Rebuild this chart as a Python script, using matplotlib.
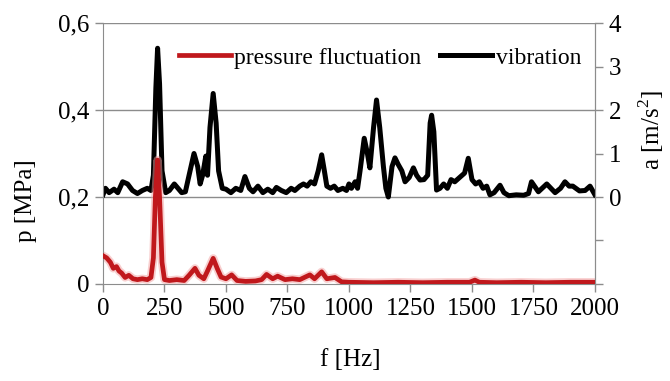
import matplotlib
matplotlib.use("Agg")
import matplotlib.pyplot as plt
from matplotlib.ticker import FixedLocator, FuncFormatter

# vibration spectrum, a [m/s2]
f_vib = [0, 10, 25, 45, 60, 80, 100, 120, 140, 160, 180, 195, 205, 215, 222, 230,
         240, 255, 270, 290, 305, 320, 335, 350, 370, 385, 395, 405, 418, 425, 435,
         448, 460, 470, 485, 500, 520, 540, 560, 577, 595, 610, 630, 650, 670, 690,
         705, 725, 745, 765, 780, 800, 815, 830, 845, 860, 875, 889, 900, 910, 925,
         940, 955, 975, 990, 1000, 1010, 1025, 1035, 1045, 1062, 1075, 1085, 1100,
         1112, 1125, 1140, 1150, 1160, 1175, 1187, 1200, 1215, 1228, 1245, 1262,
         1275, 1289, 1305, 1320, 1330, 1336, 1345, 1356, 1370, 1385, 1400, 1415,
         1430, 1450, 1470, 1485, 1500, 1515, 1530, 1545, 1560, 1573, 1590, 1614,
         1630, 1650, 1680, 1710, 1730, 1742, 1770, 1804, 1838, 1860, 1878, 1895,
         1910, 1937, 1960, 1980, 2000]
a_vib = [0.05, 0.2, 0.1, 0.18, 0.1, 0.35, 0.3, 0.15, 0.08, 0.15, 0.2, 0.15, 0.5, 2.5,
         3.42, 2.6, 0.6, 0.1, 0.15, 0.3, 0.2, 0.1, 0.12, 0.5, 1.0, 0.7, 0.3, 0.5, 0.94,
         0.5, 1.6, 2.38, 1.7, 0.6, 0.2, 0.18, 0.1, 0.2, 0.15, 0.47, 0.2, 0.12, 0.25,
         0.1, 0.18, 0.1, 0.22, 0.15, 0.1, 0.2, 0.15, 0.25, 0.3, 0.25, 0.35, 0.3, 0.6,
         0.97, 0.6, 0.25, 0.2, 0.25, 0.15, 0.2, 0.15, 0.3, 0.2, 0.35, 0.2, 0.6, 1.35,
         1.0, 0.67, 1.6, 2.23, 1.6, 0.7, 0.2, 0.0, 0.7, 0.9, 0.75, 0.6, 0.35, 0.45,
         0.67, 0.5, 0.39, 0.4, 0.5, 1.7, 1.88, 1.5, 0.16, 0.2, 0.3, 0.2, 0.4, 0.35,
         0.45, 0.55, 0.89, 0.4, 0.3, 0.35, 0.2, 0.25, 0.05, 0.1, 0.27, 0.1, 0.03,
         0.05, 0.04, 0.08, 0.35, 0.12, 0.3, 0.1, 0.2, 0.35, 0.25, 0.25, 0.14, 0.15,
         0.25, 0.05]

# pressure fluctuation spectrum, p [MPa]
f_pres = [0, 15, 30, 42, 55, 65, 76, 90, 105, 122, 140, 160, 180, 195, 205, 213, 222,
          230, 240, 250, 270, 300, 330, 350, 374, 390, 410, 425, 448, 465, 480, 500,
          523, 545, 580, 620, 645, 665, 690, 710, 740, 770, 800, 841, 860, 889, 910,
          943, 970, 1000, 1100, 1200, 1300, 1400, 1490, 1512, 1530, 1600, 1700, 1800,
          1900, 2000]
p_pres = [0.065, 0.06, 0.05, 0.036, 0.04, 0.03, 0.025, 0.015, 0.02, 0.012, 0.01,
          0.012, 0.01, 0.015, 0.06, 0.2, 0.285, 0.2, 0.05, 0.01, 0.008, 0.01, 0.008,
          0.02, 0.036, 0.02, 0.012, 0.03, 0.059, 0.035, 0.016, 0.012, 0.021, 0.008,
          0.006, 0.007, 0.01, 0.022, 0.012, 0.018, 0.01, 0.012, 0.01, 0.021, 0.012,
          0.028, 0.012, 0.015, 0.005, 0.004, 0.003, 0.004, 0.003, 0.004, 0.004, 0.009,
          0.004, 0.003, 0.004, 0.003, 0.004, 0.004]

x_ticks = [0, 250, 500, 750, 1000, 1250, 1500, 1750, 2000]
p_ticks = [0, 0.2, 0.4, 0.6]
a_ticks = [-2, -1, 0, 1, 2, 3, 4]

plt.rcParams['font.family'] = ['Liberation Serif', 'DejaVu Serif']
plt.rcParams['mathtext.fontset'] = 'custom'
plt.rcParams['mathtext.rm'] = 'Liberation Serif'

gris = '#8c8c8c'
fig = plt.figure(figsize=(6.7, 3.81), dpi=100)
ax = fig.add_axes([0.1537, 0.2546, 0.7343, 0.685])
ax2 = ax.twinx()

# lineas de rejilla en el eje derecho para que queden debajo de las curvas
for val in [0, 2, 4]:
    ax2.axhline(val, color=gris, lw=1.0, zorder=0)

ax2.plot(f_vib, a_vib, color='black', lw=3.6, solid_joinstyle='round',
         label='vibration', zorder=2)
ax.plot(f_pres, p_pres, color='#f2a0a0', lw=6, alpha=0.5, zorder=2)
ax.plot(f_pres, p_pres, color='#c0181c', lw=3.4, solid_joinstyle='round',
        label='pressure fluctuation', zorder=3)

ax.set_zorder(ax2.get_zorder() + 1)
ax.patch.set_visible(False)

ax.set_xlim(0, 2000)
ax.set_ylim(0, 0.6)
ax2.set_ylim(-2, 4)

ax.xaxis.set_major_locator(FixedLocator(x_ticks))
ax.yaxis.set_major_locator(FixedLocator(p_ticks))
ax.yaxis.set_major_formatter(FuncFormatter(lambda v, pos: ('%g' % v).replace('.', ',')))
ax2.yaxis.set_major_locator(FixedLocator(a_ticks))
ax2.yaxis.set_major_formatter(FuncFormatter(lambda v, pos: '%d' % v if v >= 0 else ''))

for a_ in (ax, ax2):
    for s in a_.spines.values():
        s.set_color(gris)
    a_.spines['top'].set_visible(False)
    a_.tick_params(direction='out', length=6, width=1, color=gris,
                   labelsize=18, labelcolor='black', pad=4)
ax2.spines['left'].set_visible(False)
ax2.spines['bottom'].set_visible(False)

ax.set_xlabel('f [Hz]', fontsize=18)
ax.set_ylabel('p [MPa]', fontsize=18)
ax2.set_ylabel('a [m/s$^2$]', fontsize=18)
ax.xaxis.set_label_coords(0.502, -0.25)
ax.yaxis.set_label_coords(-0.135, 0.32)
ax2.yaxis.set_label_coords(1.085, 0.59)

h1, l1 = ax.get_legend_handles_labels()
h2, l2 = ax2.get_legend_handles_labels()
ax.legend(h1 + h2, l1 + l2, loc='center', bbox_to_anchor=(0.563, 0.866), ncol=2,
          frameon=False, fontsize=17, handlelength=2.2, handletextpad=0.15,
          columnspacing=0.8)

fig.savefig('out.png', dpi=100)
